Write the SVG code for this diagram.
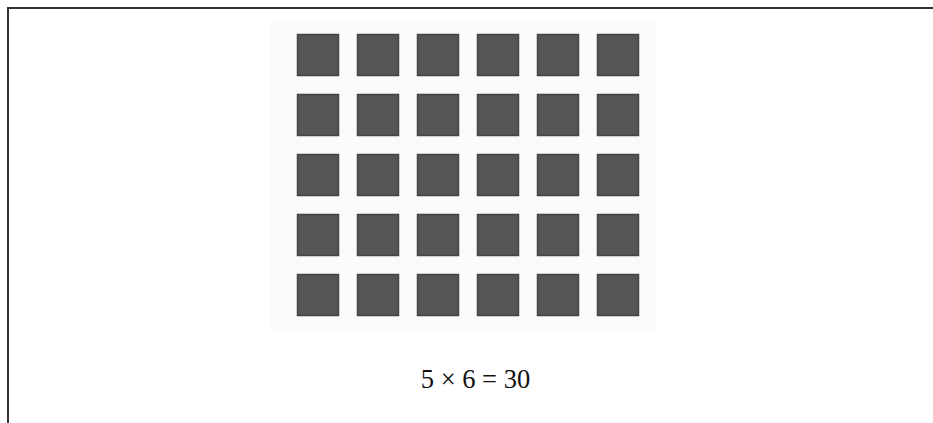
<svg xmlns="http://www.w3.org/2000/svg" width="933" height="423" viewBox="0 0 933 423">
<style>
.sq{fill:#555;stroke:#444;stroke-width:1.5}
.lbl{font-family:"Liberation Serif","Times New Roman",serif;font-size:26.5px;fill:#111}
</style>
<rect width="933" height="423" fill="#fff"/>
<g id="frame" stroke="#333" stroke-width="2" fill="none">
<path d="M8 423 V8 H933"/>
</g>
<rect x="270" y="20" width="386" height="310" fill="#fbfbfb"/>
<g id="grid">
<g id="row1"><rect class="sq" x="297.5" y="34.5" width="41" height="41"/><rect class="sq" x="357.5" y="34.5" width="41" height="41"/><rect class="sq" x="417.5" y="34.5" width="41" height="41"/><rect class="sq" x="477.5" y="34.5" width="41" height="41"/><rect class="sq" x="537.5" y="34.5" width="41" height="41"/><rect class="sq" x="597.5" y="34.5" width="41" height="41"/></g>
<g id="row2"><rect class="sq" x="297.5" y="94.5" width="41" height="41"/><rect class="sq" x="357.5" y="94.5" width="41" height="41"/><rect class="sq" x="417.5" y="94.5" width="41" height="41"/><rect class="sq" x="477.5" y="94.5" width="41" height="41"/><rect class="sq" x="537.5" y="94.5" width="41" height="41"/><rect class="sq" x="597.5" y="94.5" width="41" height="41"/></g>
<g id="row3"><rect class="sq" x="297.5" y="154.5" width="41" height="41"/><rect class="sq" x="357.5" y="154.5" width="41" height="41"/><rect class="sq" x="417.5" y="154.5" width="41" height="41"/><rect class="sq" x="477.5" y="154.5" width="41" height="41"/><rect class="sq" x="537.5" y="154.5" width="41" height="41"/><rect class="sq" x="597.5" y="154.5" width="41" height="41"/></g>
<g id="row4"><rect class="sq" x="297.5" y="214.5" width="41" height="41"/><rect class="sq" x="357.5" y="214.5" width="41" height="41"/><rect class="sq" x="417.5" y="214.5" width="41" height="41"/><rect class="sq" x="477.5" y="214.5" width="41" height="41"/><rect class="sq" x="537.5" y="214.5" width="41" height="41"/><rect class="sq" x="597.5" y="214.5" width="41" height="41"/></g>
<g id="row5"><rect class="sq" x="297.5" y="274.5" width="41" height="41"/><rect class="sq" x="357.5" y="274.5" width="41" height="41"/><rect class="sq" x="417.5" y="274.5" width="41" height="41"/><rect class="sq" x="477.5" y="274.5" width="41" height="41"/><rect class="sq" x="537.5" y="274.5" width="41" height="41"/><rect class="sq" x="597.5" y="274.5" width="41" height="41"/></g>
</g>
<g id="caption"><text class="lbl" x="475.5" y="388" text-anchor="middle">5 × 6 = 30</text></g>
</svg>
